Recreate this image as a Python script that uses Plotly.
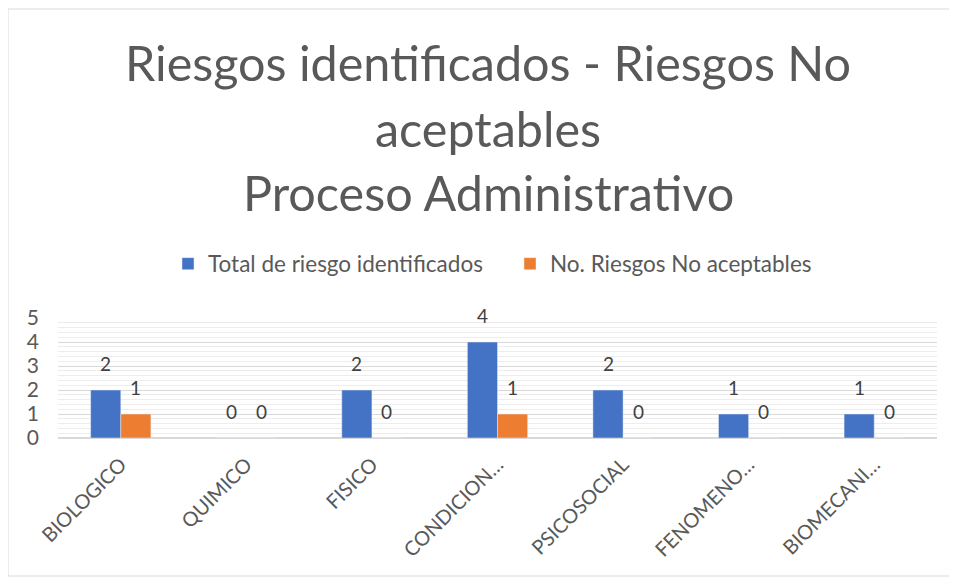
import plotly.graph_objects as go

categories = ["BIOLOGICO", "QUIMICO", "FISICO", "CONDICION…", "PSICOSOCIAL", "FENOMENO…", "BIOMECANI…"]
total_identificados = [2, 0, 2, 4, 2, 1, 1]
no_aceptables = [1, 0, 0, 1, 0, 0, 0]
series_names = ["Total de riesgo identificados", "No. Riesgos No aceptables"]
y_ticks = [0, 1, 2, 3, 4, 5]
title_lines = ["Riesgos identificados - Riesgos No", "aceptables", "Proceso Administrativo"]

OFF = 8  # page body margin
W, H = 957 - OFF, 580 - OFF
ML, MR, MT, MB = 58 - OFF, 20, 318 - OFF, 142
FONT = "Lato"

fig = go.Figure()
fig.add_bar(x=categories, y=total_identificados, name=series_names[0],
            marker_color="#4472C4", offsetgroup="a")
fig.add_bar(x=categories, y=no_aceptables, name=series_names[1],
            marker_color="#ED7D31", offsetgroup="b")

pw, ph = W - ML - MR, H - MT - MB
def px(x):
    return (x - OFF - ML) / pw
def py(y):
    return (H - MB - (y - OFF)) / ph

annotations = []
for vals, shift in ((total_identificados, -15), (no_aceptables, 15)):
    for c, v in zip(categories, vals):
        annotations.append(dict(x=c, y=v, xref="x", yref="y", text=str(v), showarrow=False,
                                xshift=shift, yshift=27,
                                font=dict(family=FONT, size=19, color="#404040")))
for line, yc in zip(title_lines, (62, 128, 192)):
    annotations.append(dict(x=px(488), y=py(yc), xref="paper", yref="paper", text=line,
                            showarrow=False, xanchor="center", yanchor="middle",
                            font=dict(family=FONT, size=48.5, color="#595959")))

fig.update_layout(
    width=W, height=H,
    margin=dict(l=ML, r=MR, t=MT, b=MB, autoexpand=False),
    paper_bgcolor="white", plot_bgcolor="white",
    bargap=0.52, bargroupgap=0,
    showlegend=True,
    legend=dict(orientation="h", x=px(168), xanchor="left", xref="paper",
                y=py(264), yanchor="middle", font=dict(family=FONT, size=22.5, color="#595959"),
                itemwidth=30, traceorder="normal", entrywidth=297, entrywidthmode="pixels"),
    xaxis=dict(tickangle=-45, tickfont=dict(family=FONT, size=20, color="#595959"),
               showgrid=False, showline=False, ticks="", automargin=False, ticklabelstandoff=10),
    yaxis=dict(range=[0, 5], tickvals=y_ticks, tickfont=dict(family=FONT, size=21, color="#595959"),
               showgrid=True, gridcolor="#d9d9d9", gridwidth=1, zeroline=True, zerolinecolor="#d9d9d9",
               minor=dict(dtick=0.2, showgrid=True, gridcolor="#ededed", gridwidth=1),
               ticks="", ticklabelstandoff=18, automargin=False),
    annotations=annotations,
    shapes=[dict(type="rect", xref="paper", yref="paper", x0=px(8), x1=px(950), y0=py(576), y1=py(9),
                 line=dict(color="#d9d9d9", width=1), layer="below")],
)

fig.write_html("out.html")
